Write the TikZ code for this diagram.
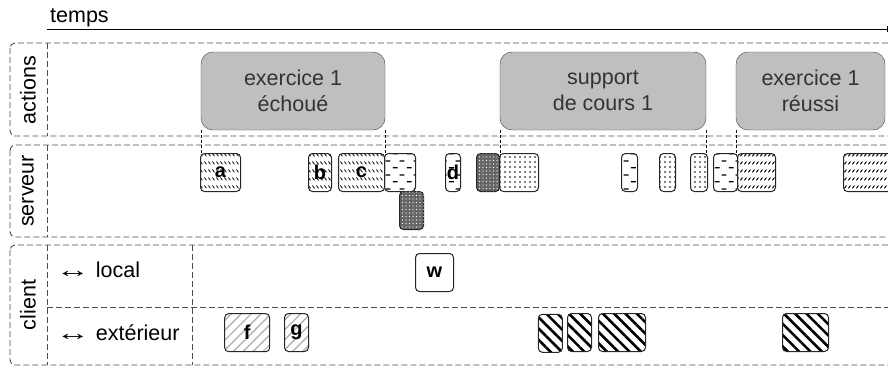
\documentclass[tikz,border=0pt]{standalone}
\usepackage{fontspec}
\setmainfont{Liberation Sans}
\usetikzlibrary{patterns,patterns.meta}

% rows of short back strokes
\pgfdeclarepatternformonly{backrows}{\pgfqpoint{0pt}{0pt}}{\pgfqpoint{4pt}{8pt}}{\pgfqpoint{4pt}{8pt}}{%
  \pgfsetlinewidth{0.9pt}%
  \pgfpathmoveto{\pgfqpoint{0.5pt}{6pt}}%
  \pgfpathlineto{\pgfqpoint{3pt}{3pt}}%
  \pgfusepath{stroke}}
% rows of short forward strokes
\pgfdeclarepatternformonly{fwdrows}{\pgfqpoint{0pt}{0pt}}{\pgfqpoint{4pt}{8pt}}{\pgfqpoint{4pt}{8pt}}{%
  \pgfsetlinewidth{1.1pt}%
  \pgfpathmoveto{\pgfqpoint{0.5pt}{3pt}}%
  \pgfpathlineto{\pgfqpoint{3pt}{6pt}}%
  \pgfusepath{stroke}}
% staggered dashes
\pgfdeclarepatternformonly{dashrows}{\pgfqpoint{0pt}{0pt}}{\pgfqpoint{14pt}{14pt}}{\pgfqpoint{14pt}{14pt}}{%
  \pgfsetlinewidth{1.3pt}%
  \pgfpathmoveto{\pgfqpoint{1pt}{3.5pt}}\pgfpathlineto{\pgfqpoint{6pt}{3.5pt}}%
  \pgfpathmoveto{\pgfqpoint{8pt}{10.5pt}}\pgfpathlineto{\pgfqpoint{13pt}{10.5pt}}%
  \pgfusepath{stroke}}

\begin{document}
\begin{tikzpicture}[x=1pt, y=-1pt,
    font=\fontsize{21.5}{26}\selectfont,
    band/.style={draw=black!70, line width=0.9pt, dash pattern=on 6pt off 3pt, rounded corners=5pt},
    sep/.style={draw=black!70, line width=0.9pt, dash pattern=on 6pt off 3pt},
    action/.style={draw=black!75, fill=black!25, rounded corners=12pt, minimum height=78pt,
      align=center, text=black!80, inner sep=0pt},
    req/.style={draw=black!85, line width=1pt, rounded corners=4pt, minimum height=38pt, inner sep=0pt,
      anchor=north west, font=\fontsize{20}{22}\selectfont\bfseries},
    hatchbox/.style={req, pattern=backrows},
    slashbox/.style={req, pattern=fwdrows},
    dashbox/.style={req, pattern=dashrows},
    dotbox/.style={req, pattern={Dots[distance=5pt, radius=0.8pt]}},
    darkbox/.style={req, fill=black!60, postaction={pattern={Dots[distance=3.5pt, radius=0.6pt]}, pattern color=white}},
    greybox/.style={req, pattern={Lines[angle=45, distance=7pt, line width=1.4pt]}, pattern color=black!30},
    blackbox/.style={req, pattern={Lines[angle=-45, distance=8pt, line width=2.6pt]}},
    plainbox/.style={req, fill=white},
    link/.style={densely dashed, thin}]
  % Fix the frame and cut what runs past the right edge
  \useasboundingbox (0,0) rectangle (888,367);
  \clip (0,0) rectangle (888,367);

  % Time axis
  \node[anchor=base west, inner sep=0pt] (temps) at (50,22) {temps};
  \coordinate (t0) at (47,29);
  \coordinate (t1) at (887,29);
  \draw[-|] (t0) -- (t1);

  % Draw the three bands and their label column
  \foreach \top/\bot in {43/136, 145/237, 245/365} {
    \draw[band] (10,\top) rectangle (920,\bot);
    \draw[sep] (47,\top) -- (47,\bot);
  }
  \draw[sep] (192,245) -- (192,365);
  \draw[sep] (47,307) -- (920,307);

  \node[rotate=90] (lblact) at (28,90) {actions};
  \node[rotate=90] (lblsrv) at (28,191) {serveur};
  \node[rotate=90] (lblcli) at (28,305) {client};
  \node[anchor=west] (lblloc) at (52,270) {\scalebox{1.6}[1]{↔} local};
  \node[anchor=west] (lblext) at (52,333) {\scalebox{1.6}[1]{↔} extérieur};

  % Actions
  \node[action, minimum width=184] (act1) at (293,91) {exercice 1\\échoué};
  \node[action, minimum width=206] (act2) at (603,91) {support\\de cours 1};
  \node[action, minimum width=149] (act3) at (810.5,91) {exercice 1\\réussi};

  % Requests on the server
  \foreach \nm/\x/\w/\kind/\lbl in {a/200/40/hatchbox/a, b/308/23/hatchbox/b, c/338/46/hatchbox/c,
      s1/384/31/dashbox/, d/445/15/dashbox/d, s2/476/23/darkbox/, s3/499/39/dotbox/,
      s4/621/16/dashbox/, s5/659/16/dotbox/, s6/690/17/dotbox/, s7/713/24/dashbox/,
      s8/737/38/slashbox/, s9/843/50/slashbox/}
    \node[\kind, minimum width=\w] (\nm) at (\x,153) {\lbl};
  \node[darkbox, minimum width=24] (s10) at (399,191) {};

  % Requests on the client
  \node[plainbox, minimum width=38] (w) at (415,253) {w};
  \foreach \nm/\x/\w/\kind/\lbl in {f/224/45/greybox/f, g/284/24/greybox/g,
      e1/537/24/blackbox/, e2/567/24/blackbox/, e3/598/47/blackbox/, e4/782/46/blackbox/}
    \node[\kind, minimum width=\w] (\nm) at (\x,313) {\lbl};

  % Dashed marks from the actions down to the requests
  \coordinate (srvtop) at (0,153);
  \foreach \a in {act1.south west, act1.south east, act2.south west, act2.south east, act3.south west}
    \draw[link] (\a) -- (\a |- srvtop);
\end{tikzpicture}
\end{document}
